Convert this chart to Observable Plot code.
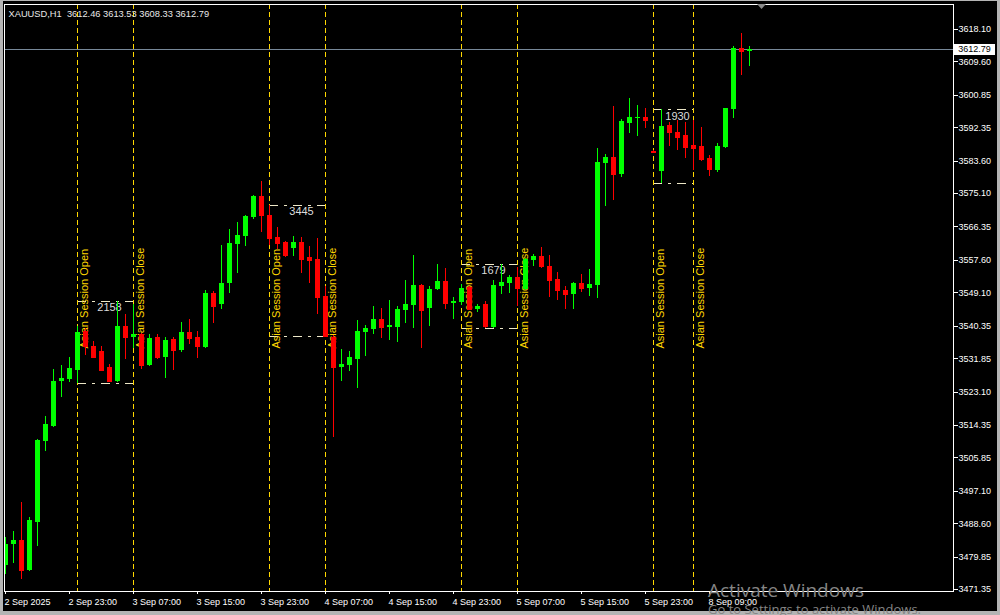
<!DOCTYPE html>
<html>
<head>
<meta charset="utf-8">
<script src="https://cdn.jsdelivr.net/npm/d3@7"></script>
<script src="https://cdn.jsdelivr.net/npm/@observablehq/plot@0.6"></script>
<style>
  html, body { margin: 0; padding: 0; background: #000; }
  #wrap { position: relative; width: 1000px; height: 615px; overflow: hidden; background: #000; }
  #wrap svg { display: block; }
  .border { position: absolute; left: 0; top: 0; width: 1000px; height: 615px; box-sizing: border-box;
    border-left: 3px solid #b4b4b4; border-top: 1px solid #b4b4b4; border-right: 3px solid #b4b4b4; border-bottom: 4px solid #b4b4b4; pointer-events: none; }
  .wm { position: absolute; font-family: 'Open Sans', sans-serif; color: #858585; white-space: nowrap; line-height: 1; }
</style>
</head>
<body>
<div id="wrap"></div>
<script>
// ---- data (XAUUSD H1, bar index -1 .. 92) ----
const symbol = "XAUUSD,H1";
const open = [
  3477.64,
  3483.22,3484.27,3476.33,3488.99,3510.14,3514.07,3525.86,3526.38,3528.74,3538.96,
  3535.03,3533.72,3529.53,3525.86,3540.27,3537.39,3538.18,3530.05,3537.39,3532.15,
  3536.87,3533.98,3538.70,3537.39,3534.77,3548.92,3546.04,3551.54,3561.76,3563.86,
  3568.84,3574.34,3569.36,3563.59,3562.28,3560.71,3562.28,3558.35,3557.83,3548.13,
  3537.40,3529.53,3530.05,3531.62,3538.70,3539.49,3542.11,3540.01,3540.01,3544.46,
  3545.77,3551.02,3544.99,3549.97,3552.06,3546.30,3546.56,3550.49,3544.73,3546.04,
  3539.99,3550.75,3551.54,3553.11,3549.97,3557.57,3558.62,3555.99,3552.59,3549.71,
  3548.66,3551.54,3550.23,3551.02,3582.99,3584.56,3580.10,3593.47,3594.78,3595.04,
  3586.13,3580.89,3592.94,3591.11,3590.32,3587.70,3587.44,3584.30,3581.15,3587.18,
  3597.14,3613.12,3612.46
];
const high = [
  3484.98,
  3486.63,3494.23,3490.22,3510.74,3516.69,3529.00,3530.05,3532.15,3540.27,3539.75,
  3536.34,3535.03,3530.31,3546.82,3543.42,3546.04,3538.44,3538.18,3538.18,3537.47,
  3537.47,3541.32,3542.11,3538.96,3549.71,3549.44,3561.50,3565.69,3567.52,3569.36,
  3574.60,3578.27,3571.98,3566.21,3562.55,3563.86,3563.60,3561.24,3563.33,3550.75,
  3537.91,3534.24,3533.70,3541.84,3540.53,3545.51,3544.99,3547.08,3545.51,3552.33,
  3558.88,3551.28,3550.75,3556.40,3555.47,3547.87,3551.28,3550.75,3546.04,3546.82,
  3552.33,3556.52,3553.64,3555.73,3558.09,3559.14,3560.97,3558.88,3554.42,3550.75,
  3551.80,3553.90,3555.21,3586.92,3585.34,3597.92,3594.52,3600.02,3598.18,3597.40,
  3586.39,3597.06,3593.73,3594.25,3593.73,3594.25,3592.42,3585.08,3588.23,3597.40,
  3613.65,3617.05,3613.53
];
const low = [
  3475.28,
  3478.24,3474.05,3476.15,3482.62,3507.60,3513.90,3521.74,3525.60,3525.24,3532.67,
  3531.90,3528.50,3525.60,3525.60,3531.62,3534.51,3529.00,3529.79,3531.62,3526.65,
  3528.74,3533.46,3535.55,3531.89,3534.60,3541.06,3544.73,3548.92,3554.16,3561.24,
  3568.31,3564.90,3561.50,3560.45,3558.35,3558.62,3554.16,3551.54,3543.42,3537.53,
  3511.18,3525.86,3528.48,3524.02,3532.41,3538.18,3537.13,3536.60,3536.08,3541.06,
  3539.75,3534.51,3540.27,3549.71,3544.73,3542.11,3545.77,3544.46,3543.94,3539.73,
  3539.80,3548.66,3548.92,3545.51,3549.71,3555.99,3555.47,3547.87,3547.08,3544.73,
  3544.73,3549.18,3548.13,3547.61,3571.72,3573.29,3579.32,3590.85,3590.06,3592.16,
  3585.61,3577.76,3587.44,3586.39,3584.30,3581.15,3583.51,3579.58,3580.63,3586.92,
  3594.78,3606.05,3608.33
];
const close = [
  3483.14,
  3484.27,3476.33,3489.43,3510.48,3514.59,3525.86,3526.65,3529.27,3538.70,3535.03,
  3532.15,3528.74,3525.86,3540.27,3537.39,3538.18,3530.05,3537.13,3532.15,3536.60,
  3533.98,3538.70,3537.13,3535.03,3548.92,3545.51,3551.54,3562.02,3564.12,3569.10,
  3574.34,3569.36,3563.33,3562.02,3558.88,3562.28,3557.83,3557.57,3547.87,3537.65,
  3529.53,3530.31,3532.15,3538.96,3539.75,3542.11,3540.01,3540.53,3544.73,3546.04,
  3551.02,3544.46,3549.97,3552.06,3546.30,3546.82,3550.23,3544.73,3545.51,3540.27,
  3551.02,3551.80,3553.11,3550.23,3557.83,3558.62,3555.99,3552.33,3549.71,3548.66,
  3551.54,3550.23,3551.28,3583.25,3584.56,3580.10,3593.99,3595.04,3595.04,3594.25,
  3585.87,3592.68,3591.11,3589.80,3587.18,3586.92,3584.03,3581.41,3587.44,3597.40,
  3613.12,3612.34,3612.79
];
const timeTickIndex = [-1, 7, 15, 23, 31, 39, 47, 55, 63, 71, 79, 87];
const timeTickLabels = ["2 Sep 2025","2 Sep 23:00","3 Sep 07:00","3 Sep 15:00","3 Sep 23:00","4 Sep 07:00",
  "4 Sep 15:00","4 Sep 23:00","5 Sep 07:00","5 Sep 15:00","5 Sep 23:00","8 Sep 09:00"];
const priceTicks = [3618.10,3609.60,3600.85,3592.35,3583.60,3575.10,3566.35,3557.60,3549.10,
  3540.35,3531.85,3523.10,3514.35,3505.85,3497.10,3488.60,3479.85,3471.35];
const sessionOpenIndex = [8, 32, 56, 80];
const sessionCloseIndex = [15, 39, 63, 85];
const sessionTextPrice = 3534.5;
const xDomain = [-1.125, 117.5];
const yDomain = [3470.83, 3624.65];

// ---- derived tables ----
const bars = open.map((o, i) => ({k: i - 1, o, h: high[i], l: low[i], c: close[i]}));
const last = bars.length - 1;
const bid = close[last];
const col = d => d.c >= d.o ? "#00ff00" : "#ff0000";
const halfW = 0.3125;
const sessions = sessionOpenIndex.map((a, i) => {
  const b = sessionCloseIndex[i];
  const inS = bars.filter(d => d.k >= a && d.k <= b);
  const hi = d3.max(inS, d => d.h), lo = d3.min(inS, d => d.l);
  return {a, b, hi, lo, range: Math.round((hi - lo) * 100)};
});
const markers = [
  ...sessionOpenIndex.map(k => ({k, label: "Asian Session Open"})),
  ...sessionCloseIndex.map(k => ({k, label: "Asian Session Close"}))
];
const title = `${symbol}\u00a0\u00a0${open[last].toFixed(2)} ${high[last].toFixed(2)} ${low[last].toFixed(2)} ${close[last].toFixed(2)}`;
const boxColor = "#eee8c8";
const gold = "#ffd700";

const plot = Plot.plot({
  width: 1000,
  height: 615,
  marginLeft: 4, marginTop: 4, marginRight: 47, marginBottom: 24,
  style: {background: "#000", color: "#fff", fontFamily: "'Liberation Sans', Arial, sans-serif", fontSize: "9px", shapeRendering: "crispEdges"},
  x: {type: "linear", domain: xDomain, axis: null, label: null},
  y: {type: "linear", domain: yDomain, axis: "right", ticks: priceTicks, tickFormat: d => d.toFixed(2), tickSize: 4, tickPadding: 1, label: null},
  marks: [
    // session boxes
    Plot.ruleY(sessions, {y: "hi", x1: "a", x2: "b", stroke: boxColor, strokeDasharray: "9,6,3,6"}),
    Plot.ruleY(sessions, {y: "lo", x1: "a", x2: "b", stroke: boxColor, strokeDasharray: "9,6,3,6"}),
    // session vertical lines
    Plot.ruleX(markers, {x: "k", stroke: gold, strokeDasharray: "5,3"}),
    Plot.text(markers, {x: "k", y: () => sessionTextPrice, text: "label", rotate: -90, textAnchor: "start", lineAnchor: "middle", dx: 6.5, fill: gold, fontSize: 11}),
    Plot.text(sessions, {x: d => (d.a + d.b) / 2 + 0.5, y: "hi", text: d => String(d.range), lineAnchor: "top", dy: 2, fill: "#dcdcdc", fontSize: 11}),
    // bid line
    Plot.ruleY([bid], {stroke: "#778899"}),
    // candles
    Plot.ruleX(bars, {x: "k", y1: "l", y2: "h", stroke: col, clip: true}),
    Plot.rect(bars, {x1: d => d.k - halfW, x2: d => d.k + halfW, y1: "o", y2: "c", fill: col, clip: true}),
    Plot.ruleY(bars, {y: "c", x1: d => d.k - halfW, x2: d => d.k + halfW, stroke: col, clip: true}),
    // time axis
    Plot.ruleX(timeTickIndex, {x: d => d, y1: () => yDomain[0], y2: () => yDomain[0] - 0.8, stroke: "#fff"}),
    Plot.text(timeTickIndex, {x: d => d, frameAnchor: "bottom", text: (d, i) => timeTickLabels[i], textAnchor: "start", lineAnchor: "top", dy: 7, dx: -1, fill: "#fff", fontSize: 9}),
    Plot.frame({stroke: "#fff"}),
    Plot.text([title], {frameAnchor: "top-left", text: d => d, textAnchor: "start", lineAnchor: "top", dx: 4, dy: 6, fill: "#e8e8e8", fontSize: 9.3})
  ]
});

const wrap = document.getElementById("wrap");
wrap.appendChild(plot);

// bid price label on the price scale
const yS = plot.scale("y");
const ys = d3.scaleLinear(yS.domain, yS.range);
const yb = ys(bid);
const lab = document.createElement("div");
lab.textContent = bid.toFixed(2);
Object.assign(lab.style, {position: "absolute", left: "954px", top: (yb - 5) + "px", width: "41px", height: "11px",
  background: "#fff", color: "#000", font: "9px 'Liberation Sans', Arial, sans-serif", lineHeight: "11px", textAlign: "center"});
wrap.appendChild(lab);

// chart-shift marker
const tri = document.createElementNS("http://www.w3.org/2000/svg", "svg");
tri.setAttribute("width", "10"); tri.setAttribute("height", "6");
tri.style.position = "absolute"; tri.style.left = "757px"; tri.style.top = "4px";
tri.innerHTML = '<polygon points="0,0 9,0 4.5,5" fill="#8a8a8a"/>';
wrap.appendChild(tri);

const border = document.createElement("div");
border.className = "border";
wrap.appendChild(border);

const wm1 = document.createElement("div");
wm1.className = "wm"; wm1.textContent = "Activate Windows";
Object.assign(wm1.style, {left: "708px", top: "581px", fontSize: "19px"});
wrap.appendChild(wm1);
const wm2 = document.createElement("div");
wm2.className = "wm"; wm2.textContent = "Go to Settings to activate Windows.";
Object.assign(wm2.style, {left: "708px", top: "603px", fontSize: "13px"});
wrap.appendChild(wm2);
</script>
</body>
</html>
